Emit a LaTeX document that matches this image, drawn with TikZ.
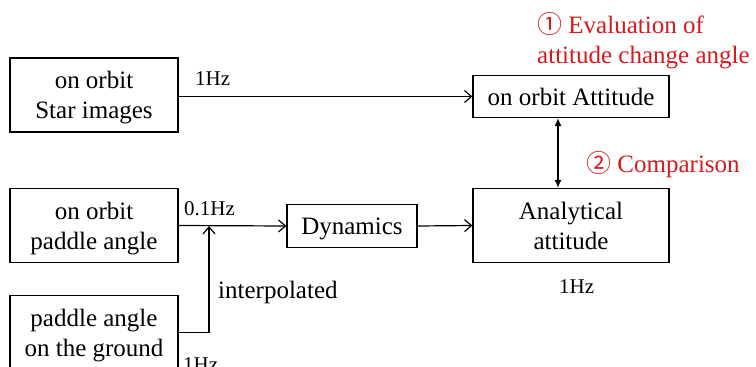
\documentclass[tikz,border=0pt]{standalone}
\usepackage{fontspec}
\setmainfont{Liberation Serif}
\newfontfamily\circfont{Noto Sans CJK SC}
\usetikzlibrary{arrows.meta, calc}
\definecolor{notered}{RGB}{215,25,30}

\begin{document}
\begin{tikzpicture}[x=1pt,y=-1pt,
    blockbox/.style={draw,line width=1.2pt,align=center,inner sep=0pt,text depth=0pt,
      font=\fontsize{25}{30}\selectfont},
    lbl/.style={inner sep=0pt,anchor=base west,font=\fontsize{21}{25}\selectfont},
    note/.style={inner sep=0pt,anchor=base west,align=left,text=notered,
      font=\fontsize{25}{30}\selectfont},
    flow/.style={line width=1.2pt,-{Straight Barb[length=7pt,width=12pt,line width=1.2pt]}}]
  \clip (0,0) rectangle (756,367);
  % Blocks
  \node[blockbox,minimum width=168pt,minimum height=74pt] (star) at (94,95){on orbit\\Star images};
  \node[blockbox,minimum width=168pt,minimum height=74pt] (paddle) at (94,225.5){on orbit\\paddle angle};
  \node[blockbox,minimum width=168pt,minimum height=74pt] (ground) at (94,332.5){paddle angle\\on the ground};
  \node[blockbox,minimum width=130pt,minimum height=43pt] (dyn) at (352,226){Dynamics};
  \node[blockbox,minimum width=196pt,minimum height=42pt] (att) at (571,96.5){on orbit Attitude};
  \node[blockbox,minimum width=196pt,minimum height=74pt] (ana) at (571,225.5){Analytical\\attitude};
  \coordinate (merge) at (209,226);
  % Connectors
  \draw[flow] (star.east|-att.west) -- (att.west);
  \draw[flow] (paddle.east) -- (dyn.west);
  \draw[flow] (dyn.east) -- (ana.west);
  \draw[flow] (ground.east) -| (merge);
  \draw[line width=1.2pt,{Latex[length=8pt,width=7pt]}-{Latex[length=8pt,width=7pt]}]
    ([xshift=-13pt]att.south) -- ([xshift=-13pt]ana.north);
  % Rates
  \node[lbl] (r1) at (195,85){1Hz};
  \node[lbl] (r2) at (184,215){0.1Hz};
  \node[lbl] (r3) at (183,371){1Hz};
  \node[lbl] (r4) at (559,293){1Hz};
  \node[lbl,font=\fontsize{25}{30}\selectfont] (interp) at (218,298){interpolated};
  % Notes
  \node[note] (eval) at (537,63){{\circfont ①} Evaluation of\\attitude change angle};
  \node[note] (comp) at (586,172){{\circfont ②} Comparison};
\end{tikzpicture}
\end{document}
